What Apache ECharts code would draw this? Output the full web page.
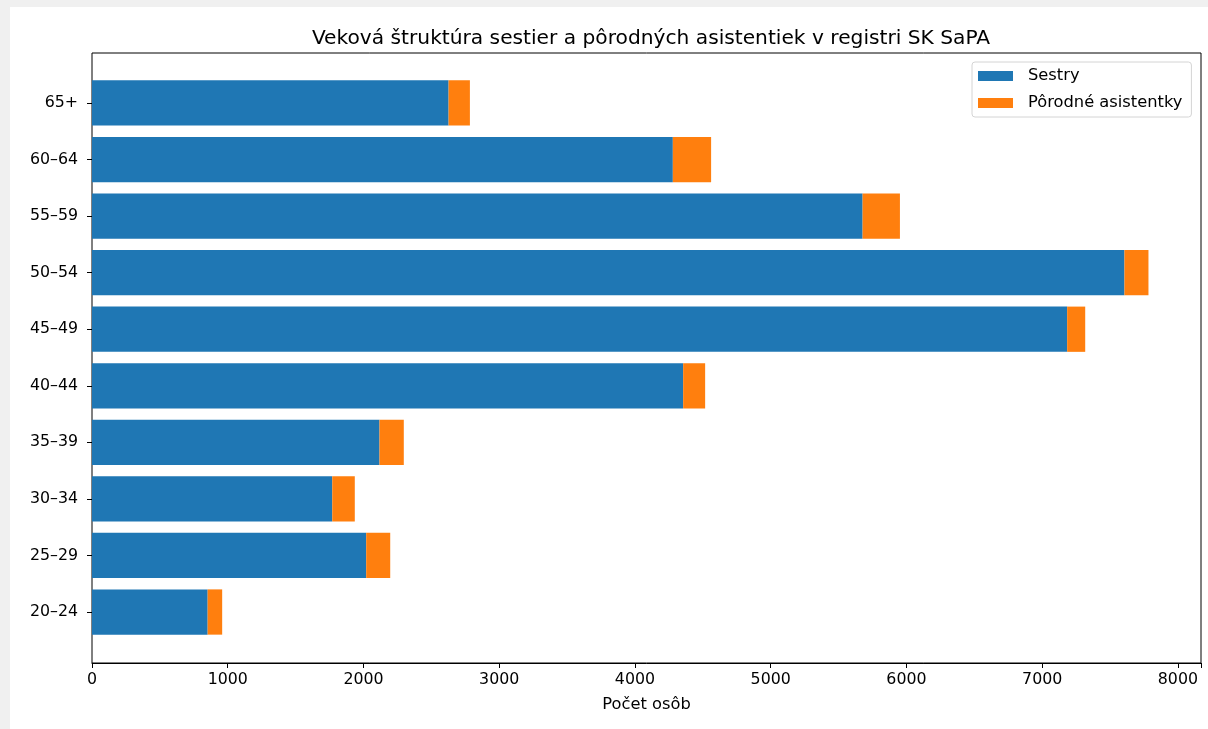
<!DOCTYPE html>
<html>
<head>
<meta charset="utf-8">
<script src="https://cdn.jsdelivr.net/npm/echarts@6/dist/echarts.min.js"></script>
<style>
html,body{margin:0;padding:0;background:#f0f0f0;width:1208px;height:729px;overflow:hidden;}
#c{position:absolute;left:10px;top:7px;width:1198px;height:722px;background:#fff;}
</style>
</head>
<body>
<div id="c"></div>
<script>
const categories = ["20–24","25–29","30–34","35–39","40–44","45–49","50–54","55–59","60–64","65+"];
const sestry = [852, 2020, 1770, 2118, 4355, 7184, 7606, 5677, 4279, 2627];
const porodne = [107, 177, 166, 179, 162, 133, 177, 275, 282, 157];
const xTicks = {min: 0, max: 8170, interval: 1000};

const FONT = 'DejaVu Sans';
const chart = echarts.init(document.getElementById('c'));
chart.setOption({
  animation: false,
  textStyle: {fontFamily: FONT},
  title: {
    text: 'Veková štruktúra sestier a pôrodných asistentiek v registri SK SaPA',
    left: 636, top: 17, textAlign: 'center',
    textStyle: {fontFamily: FONT, fontSize: 20.2, fontWeight: 'normal', color: '#000'}
  },
  legend: {
    orient: 'vertical', left: 962, top: 55,
    padding: [6, 9, 6, 6], itemGap: 11,
    itemWidth: 35, itemHeight: 10,
    borderColor: '#d4d4d4', borderWidth: 1, borderRadius: 3,
    backgroundColor: '#fff',
    icon: 'rect',
    textStyle: {fontFamily: FONT, fontSize: 16.3, color: '#000', padding: [0, 0, 0, 10]},
    data: ['Sestry', 'Pôrodné asistentky']
  },
  grid: [
    {left: 82, right: 7, top: 46, bottom: 66, show: true, borderColor: '#000', borderWidth: 1, backgroundColor: 'transparent'},
    {left: 82, right: 7, top: 67.7, bottom: 88.7}
  ],
  xAxis: [
    {type: 'value', gridIndex: 0, min: xTicks.min, max: xTicks.max, interval: xTicks.interval,
     name: 'Počet osôb', nameLocation: 'middle', nameGap: 34,
     nameTextStyle: {fontFamily: FONT, fontSize: 16.3, color: '#000'},
     splitLine: {show: false},
     axisLine: {show: true, lineStyle: {color: '#000', width: 1}},
     axisTick: {show: true, length: 5, lineStyle: {color: '#000'}},
     axisLabel: {fontFamily: FONT, fontSize: 15.8, color: '#000', margin: 9,
       formatter: v => (v % 1000 === 0 ? String(v) : '')},
     showMaxLabel: false
    },
    {type: 'value', gridIndex: 1, min: xTicks.min, max: xTicks.max, show: false}
  ],
  yAxis: [
    {type: 'value', gridIndex: 0, show: false, splitLine: {show: false}},
    {type: 'category', gridIndex: 1, data: categories,
     axisLine: {show: false},
     axisTick: {show: true, length: 5, alignWithLabel: true, lineStyle: {color: '#000'}},
     axisLabel: {fontFamily: FONT, fontSize: 15.8, color: '#000', margin: 14},
     splitLine: {show: false}
    }
  ],
  series: [
    {name: 'Sestry', type: 'bar', stack: 'a', xAxisIndex: 1, yAxisIndex: 1,
     barWidth: '80%', data: sestry, itemStyle: {color: '#1f77b4'}},
    {name: 'Pôrodné asistentky', type: 'bar', stack: 'a', xAxisIndex: 1, yAxisIndex: 1,
     barWidth: '80%', data: porodne, itemStyle: {color: '#ff7f0e'}}
  ]
});
</script>
</body>
</html>
